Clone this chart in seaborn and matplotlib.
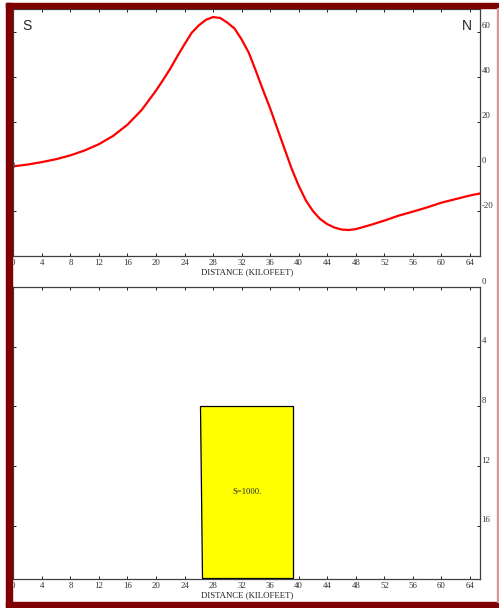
import numpy as np
import matplotlib.pyplot as plt
import seaborn as sns
from matplotlib.patches import Rectangle
from matplotlib import transforms

# gravity profile
distance = [0, 2, 4, 6, 8, 10, 12, 14, 16, 18, 20, 21, 22, 23, 24, 25, 26, 27, 28, 29,
            30, 31, 32, 33, 34, 35, 36, 37, 38, 39, 40, 41, 42, 43, 44, 45, 46, 47, 48,
            50, 52, 54, 56, 58, 60, 62, 64, 65.4]
gravity = [0, 0.8, 1.9, 3.2, 4.9, 7.1, 9.9, 13.6, 18.6, 25.2, 33.8, 38.6, 43.6, 49.2,
           54.5, 59.6, 62.9, 65.4, 66.6, 66.2, 64.1, 61.5, 56.6, 50.7, 42.5, 34.0, 25.8,
           16.8, 7.9, -1.0, -8.7, -15.2, -20.0, -23.5, -25.8, -27.3, -28.2, -28.4, -28.0,
           -26.2, -24.2, -22.0, -20.2, -18.3, -16.2, -14.6, -13.0, -12.1]

# body outline (depth in kilofeet)
body_x = [26.1, 39.25, 39.25, 26.4]
body_depth = [8.0, 8.0, 19.5, 19.5]
body_label = "S=1000."

xticks = list(range(0, 65, 4))
grav_ticks = [-20, 0, 20, 40, 60]
depth_ticks = [0, 4, 8, 12, 16]

sns.set_style("white")
plt.rcParams['font.family'] = ['Liberation Serif', 'DejaVu Serif']

W, H = 499, 608
fig = plt.figure(figsize=(W / 100, H / 100), dpi=100)


def box(l, t, r, b):
    return [l / W, 1 - b / H, (r - l) / W, (b - t) / H]


ax1 = fig.add_axes(box(13.3, 9, 480, 256))
ax2 = fig.add_axes(box(13.3, 287.3, 480, 579.3))

sns.lineplot(x=distance, y=gravity, ax=ax1, color='#ff0000', lw=1.6,
             sort=False, estimator=None)
ax1.set_xlim(0, 65.4)
ax1.set_ylim(-40, 70.2)

ax2.fill(body_x, body_depth, facecolor='#ffff00', edgecolor='black', lw=0.9)
ax2.text(np.mean(body_x), np.mean(body_depth), body_label, ha='center', va='center',
         fontsize=6.2)
ax2.set_xlim(0, 65.4)
ax2.set_ylim(19.6, 0)

fs = 6.3
for ax, yt in [(ax1, grav_ticks), (ax2, depth_ticks)]:
    for s in ax.spines.values():
        s.set_color('#404040')
        s.set_linewidth(0.9)
    ax.set_xticks(xticks)
    ax.set_yticks(yt)
    ax.tick_params(direction='in', length=2.4, width=0.7, color='#202020',
                   top=True, bottom=True, left=True, right=True,
                   labelleft=False, labelsize=fs, pad=2, labelcolor='#303030')
    ax.set_xlabel("DISTANCE (KILOFEET)", fontsize=fs, labelpad=1, color='#202020')
    ax.set_ylabel("")
    off = transforms.ScaledTranslation(1.2 / 72, 4 / 72, fig.dpi_scale_trans)
    tr = ax.get_yaxis_transform() + off
    for v in yt:
        ax.text(1, v, str(v), transform=tr, ha='left', va='center',
                fontsize=fs, color='#303030')

ax1.text(0, 0, "0", transform=ax1.get_yaxis_transform(), ha='center', va='center',
         fontsize=fs, color='#505050')
ax1.text(0.03, 0.93, "S", transform=ax1.transAxes, ha='center', va='center',
         fontsize=10, family='Liberation Sans')
ax1.text(0.972, 0.93, "N", transform=ax1.transAxes, ha='center', va='center',
         fontsize=10, family='Liberation Sans')

# dark red frame round the page
red = '#7f0000'
fig.add_artist(Rectangle((6 / W, 1 - 607 / H), 6 / W, 604 / H,
                         transform=fig.transFigure, color=red, zorder=10))
fig.add_artist(Rectangle((6 / W, 1 - 8.3 / H), 492 / W, 5.3 / H,
                         transform=fig.transFigure, color=red, zorder=10))
fig.add_artist(Rectangle((6 / W, 1 - 607 / H), 492 / W, 5.3 / H,
                         transform=fig.transFigure, color=red, zorder=10))
fig.add_artist(Rectangle((496.8 / W, 1 - 602 / H), 1 / W, 594 / H,
                         transform=fig.transFigure, color='#d89898', zorder=10))

fig.savefig('out.png', dpi=100)
